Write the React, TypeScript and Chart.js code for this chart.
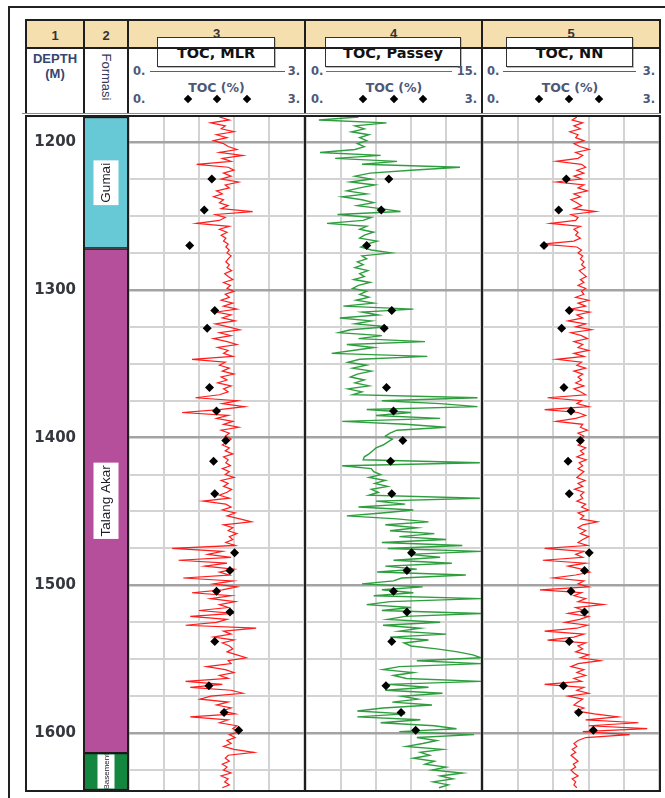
import React, { useEffect, useRef } from 'react';
import { Chart, registerables } from 'chart.js';
Chart.register(...registerables);

// ---------------- data ----------------
const DEPTH_MIN = 1183;
const DEPTH_MAX = 1638.5;
const SAMPLE_TOP = 1183; // first log sample (m)
const SAMPLE_STEP = 2; // log sampling interval (m)
const DEPTH_LABELS = [1200, 1300, 1400, 1500, 1600];
const DEPTH_GRID = [1200, 1225, 1250, 1275, 1300, 1325, 1350, 1375, 1400, 1425, 1450, 1475, 1500, 1525, 1550, 1575, 1600, 1625];
const TOC_GRID = [0, 0.6, 1.2, 1.8, 2.4, 3];
const PASSEY_GRID = [0, 3, 6, 9, 12, 15];

const TOC_MLR = [
  1.55, 1.72, 1.40, 1.65, 1.58, 1.80, 1.50, 1.68, 1.45, 1.62,
  1.70, 1.85, 1.55, 1.95, 1.60, 1.75, 1.16, 1.70, 1.80, 1.62,
  1.75, 1.58, 1.88, 1.65, 1.72, 1.50, 1.60, 1.45, 1.62, 1.55,
  1.70, 1.58, 2.12, 1.48, 1.65, 1.55, 1.16, 1.72, 1.55, 1.68,
  1.58, 1.66, 1.62, 1.70, 1.66, 1.72, 1.68, 1.75, 1.70, 1.66,
  1.72, 1.68, 1.76, 1.64, 1.70, 1.78, 1.62, 1.74, 1.68, 1.80,
  1.65, 1.72, 1.58, 1.78, 1.62, 1.85, 1.50, 1.75, 1.60, 1.82,
  1.48, 1.70, 1.90, 1.55, 1.75, 1.45, 1.68, 1.85, 1.52, 1.70,
  1.62, 1.78, 1.08, 1.65, 1.55, 1.72, 1.60, 1.80, 1.58, 1.68,
  1.52, 1.75, 1.62, 1.70, 1.55, 1.14, 1.86, 1.60, 1.98, 1.55,
  0.91, 1.70, 1.50, 1.78, 1.62, 1.88, 1.58, 1.72, 1.65, 1.75,
  1.68, 1.60, 1.72, 1.65, 1.78, 1.62, 1.70, 1.66, 1.74, 1.60,
  1.72, 1.65, 1.80, 1.58, 1.70, 1.62, 1.76, 1.68, 1.55, 1.72,
  1.27, 1.66, 1.75, 1.60, 1.82, 1.68, 1.90, 2.10, 1.62, 1.78,
  1.70, 1.85, 1.72, 1.78, 1.66, 1.82, 0.74, 1.60, 1.35, 1.75,
  0.85, 1.68, 1.30, 1.80, 1.55, 1.72, 0.93, 1.78, 1.45, 1.85,
  1.60, 1.08, 1.75, 1.40, 1.82, 1.55, 1.70, 1.20, 1.80, 1.05,
  1.68, 1.50, 0.97, 2.18, 1.62, 1.75, 1.45, 1.80, 1.60, 1.72,
  1.78, 1.68, 1.85, 2.01, 1.70, 1.75, 1.33, 1.65, 1.80, 1.55,
  1.70, 0.97, 1.60, 1.05, 1.75, 1.95, 1.40, 1.22, 1.70, 1.50,
  1.75, 1.60, 1.82, 1.05, 1.70, 1.55, 1.85, 1.78, 1.90, 1.72,
  1.82, 1.68, 1.75, 1.62, 1.80, 2.14, 1.70, 1.65, 1.72, 1.60,
  1.68, 1.62, 1.75, 1.58, 1.70, 1.64, 1.72, 1.60,
];

const TOC_PASSEY = [
  4.5, 1.1, 6.9, 4.2, 5.0, 3.9, 5.4, 4.6, 5.2, 4.4,
  5.0, 4.2, 1.2, 6.4, 2.5, 7.8, 4.8, 13.2, 9.0, 5.5,
  4.2, 5.6, 3.8, 5.9, 4.6, 3.5, 5.2, 3.1, 4.8, 5.8,
  4.4, 6.4, 8.1, 2.7, 5.6, 4.9, 1.8, 5.2, 4.6, 5.8,
  5.0, 4.6, 6.1, 5.2, 4.7, 5.6, 7.3, 4.8, 5.2, 4.4,
  4.9, 4.2, 5.3, 4.6, 5.0, 4.1, 5.5, 4.5, 4.0, 5.2,
  4.6, 5.4, 4.3, 5.8, 3.2, 9.2, 4.8, 6.2, 2.9, 5.6,
  4.2, 7.0, 3.8, 2.8, 6.5, 4.5, 10.2, 3.5, 5.8, 4.0,
  2.2, 10.4, 4.6, 3.6, 5.2, 4.0, 5.6, 4.4, 3.8, 5.0,
  4.2, 5.4, 3.6, 4.8, 4.0, 14.7, 6.5, 11.5, 14.7, 5.2,
  9.0, 6.0, 11.5, 3.1, 8.5, 12.0, 7.8, 7.2, 6.8, 7.4,
  7.0, 6.6, 6.0, 5.7, 5.4, 5.0, 4.9, 14.9, 3.1, 5.6,
  5.8, 6.4, 5.4, 6.8, 5.9, 7.0, 5.6, 6.2, 5.4, 14.9,
  6.0, 8.5, 4.5, 9.2, 6.5, 3.5, 7.8, 10.5, 6.8, 9.5,
  7.2, 11.0, 8.0, 12.0, 6.5, 13.4, 7.0, 15.0, 8.8, 11.5,
  7.5, 12.5, 6.8, 9.5, 6.1, 13.7, 8.2, 7.5, 4.8, 10.0,
  6.5, 9.2, 5.8, 15.0, 7.2, 5.2, 9.0, 6.5, 15.0, 8.5,
  7.0, 11.5, 6.6, 9.8, 8.0, 12.0, 7.2, 10.5, 8.4, 9.0,
  11.2, 13.0, 14.3, 15.0, 9.5, 15.0, 8.0, 6.6, 9.2, 7.5,
  8.6, 15.0, 7.0, 10.5, 6.8, 11.7, 8.2, 9.6, 7.4, 10.8,
  6.6, 4.4, 8.5, 4.4, 9.8, 6.4, 11.0, 12.9, 8.0, 14.4,
  9.5, 11.2, 10.0, 8.6, 11.7, 9.8, 10.6, 9.2, 11.0, 10.2,
  12.0, 10.8, 13.4, 11.5, 12.6, 10.9, 12.2, 11.4,
];

const TOC_NN = [
  1.60, 1.52, 1.70, 1.55, 1.66, 1.48, 1.62, 1.58, 1.72, 1.55,
  1.65, 1.81, 1.58, 1.70, 1.62, 1.25, 1.68, 1.75, 1.60, 1.72,
  1.55, 1.68, 1.25, 1.72, 1.62, 1.78, 1.55, 1.66, 1.50, 1.60,
  1.68, 1.55, 1.92, 1.50, 1.62, 1.58, 1.15, 1.66, 1.55, 1.62,
  1.58, 1.66, 1.55, 1.00, 1.60, 1.68, 1.62, 1.70, 1.66, 1.72,
  1.68, 1.74, 1.64, 1.70, 1.76, 1.66, 1.72, 1.62, 1.75, 1.68,
  1.72, 1.58, 1.80, 1.62, 1.75, 1.50, 1.82, 1.60, 1.70, 1.45,
  1.75, 1.58, 1.85, 1.50, 1.68, 1.78, 1.55, 1.70, 1.62, 1.80,
  1.55, 1.72, 1.25, 1.68, 1.60, 1.75, 1.55, 1.70, 1.62, 1.68,
  1.58, 1.72, 1.55, 1.66, 1.75, 1.10, 1.68, 1.60, 1.80, 1.05,
  1.62, 1.75, 1.58, 1.25, 1.70, 1.66, 1.78, 1.62, 1.72, 1.68,
  1.70, 1.62, 1.75, 1.66, 1.72, 1.60, 1.76, 1.64, 1.70, 1.62,
  1.72, 1.66, 1.60, 1.74, 1.62, 1.70, 1.56, 1.72, 1.66, 1.70,
  1.60, 1.75, 1.68, 1.80, 1.62, 1.72, 1.66, 1.95, 1.70, 1.62,
  1.75, 1.66, 1.80, 1.70, 1.62, 1.78, 1.05, 1.72, 1.58, 1.70,
  1.02, 1.75, 1.45, 1.68, 1.82, 1.58, 1.20, 1.72, 1.62, 1.80,
  0.97, 1.68, 1.55, 1.75, 1.62, 2.05, 1.58, 1.72, 1.45, 1.80,
  1.65, 1.40, 1.78, 1.60, 1.05, 1.72, 1.55, 1.10, 1.75, 1.62,
  1.70, 1.58, 1.80, 1.66, 2.00, 1.62, 1.50, 1.72, 1.60, 1.75,
  1.55, 1.68, 1.05, 1.72, 1.60, 1.80, 1.45, 1.70, 1.62, 1.55,
  1.72, 1.58, 1.90, 2.30, 1.75, 2.65, 1.80, 2.80, 1.70, 2.50,
  1.75, 1.62, 1.55, 1.60, 1.52, 1.58, 1.50, 1.56, 1.62, 1.54,
  1.58, 1.50, 1.55, 1.62, 1.52, 1.58, 1.55, 1.60,
];

const CORE_DEPTH = [1225, 1246, 1270, 1314, 1326, 1366, 1382, 1402, 1416, 1438, 1478, 1490, 1504, 1518, 1538, 1568, 1586, 1598];
const CORE_TOC = [1.42, 1.29, 1.04, 1.47, 1.34, 1.38, 1.50, 1.66, 1.45, 1.47, 1.81, 1.73, 1.50, 1.73, 1.47, 1.37, 1.63, 1.88];

const FORMATION_NAMES = ['Gumai', 'Talang Akar', 'Basement'];
const FORMATION_TOP = [1183, 1272, 1613.5];
const FORMATION_BASE = [1272, 1613.5, 1638.5];
const FORMATION_COLORS = ['#67c8d6', '#b54f9b', '#13863f'];

// ---------------- chart configs ----------------
const isMajor = (c: any) => c.tick && Math.round(c.tick.value) % 100 === 0;

function depthScale() {
  return {
    type: 'linear',
    reverse: true,
    min: DEPTH_MIN,
    max: DEPTH_MAX,
    afterBuildTicks: (s: any) => { s.ticks = DEPTH_GRID.map((v) => ({ value: v })); },
    ticks: { display: false },
    grid: {
      color: (c: any) => (isMajor(c) ? '#a3a3a3' : '#d3d3d3'),
      lineWidth: (c: any) => (isMajor(c) ? 2.5 : 2),
      drawTicks: false,
    },
    border: { display: false },
  };
}

const baseOptions = {
  animation: false,
  responsive: false,
  events: [],
  layout: { padding: 0, autoPadding: false },
  plugins: { legend: { display: false }, tooltip: { enabled: false } },
};

function trackConfig(curve: number[], color: string, max: number, grid: number[], width: number) {
  const curvePts = curve.map((v, i) => ({ x: v, y: SAMPLE_TOP + i * SAMPLE_STEP }));
  const corePts = CORE_DEPTH.map((d, i) => ({ x: CORE_TOC[i], y: d }));
  return {
    type: 'scatter',
    data: {
      datasets: [
        { data: curvePts, xAxisID: 'x', yAxisID: 'y', showLine: true, borderColor: color, backgroundColor: color, borderWidth: width, pointRadius: 0, tension: 0, order: 2 },
        { data: corePts, xAxisID: 'xc', yAxisID: 'y', showLine: false, pointStyle: 'rectRot', pointRadius: 4.5, backgroundColor: '#000', borderColor: '#000', borderWidth: 0, order: 1 },
      ],
    },
    options: {
      ...baseOptions,
      scales: {
        x: {
          type: 'linear', min: 0, max, position: 'top',
          afterBuildTicks: (s: any) => { s.ticks = grid.map((v) => ({ value: v })); },
          ticks: { display: false },
          grid: { color: '#d3d3d3', lineWidth: 2, drawTicks: false },
          border: { display: false },
        },
        xc: { type: 'linear', min: 0, max: 3, display: false },
        y: depthScale(),
      },
    },
  };
}

function depthConfig() {
  return {
    type: 'scatter',
    data: { datasets: [] },
    options: {
      ...baseOptions,
      scales: {
        x: { type: 'linear', min: 0, max: 1, display: false },
        y: {
          type: 'linear', reverse: true, min: DEPTH_MIN, max: DEPTH_MAX, position: 'left',
          afterBuildTicks: (s: any) => { s.ticks = DEPTH_LABELS.map((v) => ({ value: v })); },
          afterFit: (s: any) => { s.width = 51; s.paddingTop = 0; s.paddingBottom = 0; },
          ticks: { color: '#35373f', padding: 2, autoSkip: false, font: { family: 'DejaVu Sans', size: 15, weight: 'bold' }, callback: (v: any) => String(v) },
          grid: { display: false, drawTicks: false },
          border: { display: false },
        },
      },
    },
  };
}

const zoneLabelPlugin = {
  id: 'zoneLabels',
  afterDatasetsDraw(chart: any) {
    const ctx = chart.ctx;
    chart.data.datasets.forEach((ds: any, i: number) => {
      const el = chart.getDatasetMeta(i).data[0];
      if (!el) return;
      const p = el.getProps(['x', 'y', 'base', 'width'], true);
      const top = Math.min(p.y, p.base);
      const bot = Math.max(p.y, p.base);
      const left = p.x - p.width / 2;
      const small = i === 2;
      const size = small ? 8 : 13.5;
      ctx.save();
      ctx.beginPath();
      ctx.rect(left + 2, top + 1.5, p.width - 4, bot - top - 3);
      ctx.clip();
      ctx.translate(p.x, (top + bot) / 2);
      ctx.rotate(-Math.PI / 2);
      ctx.font = `${size}px "Liberation Sans", Arial, sans-serif`;
      const w = ctx.measureText(ds.label).width;
      const boxW = w + 5;
      const boxH = small ? 17 : 25;
      ctx.fillStyle = '#ffffff';
      ctx.fillRect(-boxW / 2, -boxH / 2, boxW, boxH);
      ctx.fillStyle = '#1c1c2a';
      ctx.textAlign = 'center';
      ctx.textBaseline = 'middle';
      ctx.fillText(ds.label, 0, 0.5);
      ctx.restore();
    });
  },
};

function formationConfig() {
  return {
    type: 'bar',
    data: {
      labels: ['Formasi'],
      datasets: FORMATION_NAMES.map((n, i) => ({
        label: n,
        data: [[FORMATION_TOP[i], FORMATION_BASE[i]]],
        backgroundColor: FORMATION_COLORS[i],
        borderColor: '#1a1a1a',
        borderWidth: 1.5,
        borderSkipped: false,
        grouped: false,
        barPercentage: 1,
        categoryPercentage: 1,
      })),
    },
    options: {
      ...baseOptions,
      scales: {
        x: { display: false },
        y: { type: 'linear', display: false, reverse: true, min: DEPTH_MIN, max: DEPTH_MAX },
      },
    },
    plugins: [zoneLabelPlugin],
  };
}

// ---------------- components ----------------
function ChartBox({ left, top, width, height, make }: any) {
  const ref = useRef<HTMLCanvasElement>(null);
  useEffect(() => {
    const chart = new Chart(ref.current as any, make());
    return () => chart.destroy();
  }, []);
  return (
    <canvas
      ref={ref}
      width={width}
      height={height}
      style={{ position: 'absolute', left, top, width, height, display: 'block' }}
    />
  );
}

function Box({ l, t, w, h, bg, style }: any) {
  return <div style={{ position: 'absolute', left: l, top: t, width: w, height: h, background: bg, ...style }} />;
}

function Txt({ x, y, text, align = 'center', size = 12, weight = 'normal', color = '#222', family = 'DejaVu Sans', rotate = 0 }: any) {
  const tx = align === 'center' ? '-50%' : align === 'right' ? '-100%' : '0';
  return (
    <div
      style={{
        position: 'absolute', left: x, top: y, whiteSpace: 'nowrap', lineHeight: 1,
        fontFamily: family, fontSize: size, fontWeight: weight, color,
        transform: `translate(${tx}, -50%) rotate(${rotate}deg)`,
      }}
    >
      {text}
    </div>
  );
}

function Diamond({ x, y }: any) {
  return (
    <div style={{ position: 'absolute', left: x - 3, top: y - 3, width: 6, height: 6, background: '#000', transform: 'rotate(45deg)' }} />
  );
}

const INK = '#1e1e1e';
const LABEL = '#4d5877';
const TAN = '#f6dfae';

const COLS = [26, 84, 128, 305, 482, 660];

function TrackHeader({ cx, boxL, boxW, title, lineL, lineR, lineColor, leftX, rightX, maxLabel, diamonds }: any) {
  return (
    <>
      <Box l={boxL} t={37} w={boxW} h={30} bg="#fff" style={{ border: '1.5px solid #333', boxSizing: 'border-box', boxShadow: '1px 1px 0 #bbb' }} />
      <Txt x={boxL + boxW / 2} y={52.5} text={title} size={14.5} weight="bold" color="#111" />
      <Box l={lineL} t={70.5} w={lineR - lineL} h={1.5} bg={lineColor} />
      <Txt x={leftX} y={71.5} text="0." align="left" size={11.5} weight="bold" color={LABEL} />
      <Txt x={rightX} y={71.5} text={maxLabel} align="right" size={11.5} weight="bold" color={LABEL} />
      <Txt x={cx} y={88} text="TOC (%)" size={12.5} weight="bold" color={LABEL} />
      <Txt x={leftX} y={99.5} text="0." align="left" size={11.5} weight="bold" color={LABEL} />
      <Txt x={rightX} y={99.5} text="3." align="right" size={11.5} weight="bold" color={LABEL} />
      {diamonds.map((d: number) => <Diamond key={d} x={d} y={99} />)}
    </>
  );
}

export default function App() {
  const bodyTop = 117;
  const bodyH = 673;
  return (
    <div style={{ position: 'absolute', left: 0, top: 0, width: 665, height: 798, background: '#fff', overflow: 'hidden' }}>
      {/* outer frame */}
      <Box l={8} t={6} w={700} h={900} style={{ border: '2px solid #222', boxSizing: 'border-box' }} />

      {/* header backgrounds */}
      <Box l={26} t={20} w={634} h={28} bg={TAN} />
      <Box l={26} t={48} w={634} h={65} bg="#fff" />

      {/* header numbers */}
      {['1', '2', '3', '4', '5'].map((n, i) => (
        <Txt key={n} x={(COLS[i] + COLS[i + 1]) / 2} y={i < 2 ? 35 : 32.5} text={n} size={13} weight="bold" color="#333" family="Liberation Sans" />
      ))}

      {/* column 1 and 2 header */}
      <Txt x={55} y={58} text="DEPTH" size={13} weight="bold" color="#34466e" family="Liberation Sans" />
      <Txt x={55} y={72.5} text="(M)" size={13} weight="bold" color="#34466e" family="Liberation Sans" />
      <Txt x={106} y={76.5} text="Formasi" size={13} color="#333a55" family="Liberation Sans" rotate={90} />

      <TrackHeader cx={216.5} boxL={157} boxW={118} title="TOC, MLR" lineL={150} lineR={285} lineColor="#ee2222"
        leftX={133} rightX={300} maxLabel="3." diamonds={[188, 217, 247]} />
      <TrackHeader cx={394} boxL={325} boxW={136} title="TOC, Passey" lineL={326} lineR={452} lineColor="#2e9a3e"
        leftX={311} rightX={477} maxLabel="15." diamonds={[363, 394, 423]} />
      <TrackHeader cx={570} boxL={506} boxW={127} title="TOC, NN" lineL={503} lineR={636} lineColor="#ee2222"
        leftX={487} rightX={655} maxLabel="3." diamonds={[539, 569, 599]} />

      {/* header lines */}
      <Box l={25} t={19} w={636} h={2} bg={INK} />
      <Box l={25} t={47} w={636} h={2} bg={INK} />
      <Box l={22} t={112.5} w={639} h={1} bg="#8a8a8a" />
      {COLS.map((x) => <Box key={'h' + x} l={x - 1} t={19} w={2} h={94} bg={INK} />)}

      {/* body charts */}
      <ChartBox left={27} top={bodyTop} width={56} height={bodyH} make={depthConfig} />
      <ChartBox left={83} top={bodyTop} width={46} height={bodyH} make={formationConfig} />
      <ChartBox left={129} top={bodyTop} width={175} height={bodyH} make={() => trackConfig(TOC_MLR, '#ff1c1c', 3, TOC_GRID, 1.2)} />
      <ChartBox left={306} top={bodyTop} width={175} height={bodyH} make={() => trackConfig(TOC_PASSEY, '#2f9e3f', 15, PASSEY_GRID, 1.4)} />
      <ChartBox left={483} top={bodyTop} width={176} height={bodyH} make={() => trackConfig(TOC_NN, '#ff1c1c', 3, TOC_GRID, 1.2)} />

      {/* body lines */}
      <Box l={25} t={115} w={636} h={2} bg={INK} />
      <Box l={25} t={790} w={636} h={2} bg={INK} />
      {COLS.map((x) => <Box key={'b' + x} l={x - 1} t={115} w={2} h={677} bg={INK} />)}
    </div>
  );
}
